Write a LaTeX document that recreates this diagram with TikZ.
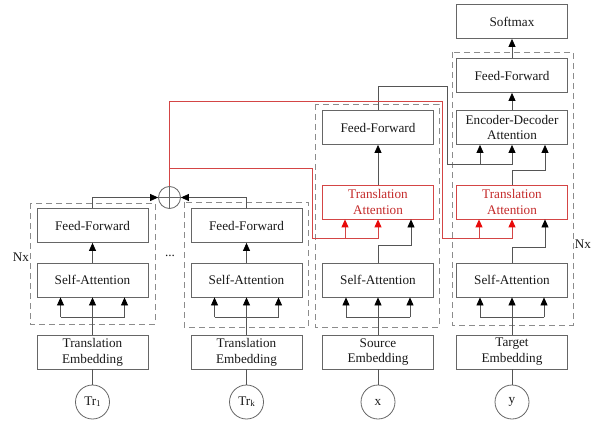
\documentclass[tikz,border=0pt]{standalone}
\usepackage{fontspec}
\setmainfont{Liberation Serif}
\usetikzlibrary{arrows.meta}

\definecolor{boxgray}{HTML}{666666}
\definecolor{linegray}{HTML}{555555}
\definecolor{dashgray}{HTML}{8C8C8C}
\definecolor{attred}{HTML}{C42A2A}
\definecolor{linered}{HTML}{D44545}
\definecolor{tipred}{HTML}{E80A0A}

\tikzset{
  block/.style={draw=boxgray, line width=0.8pt, minimum width=111pt,
    minimum height=34pt, inner sep=0pt, align=center,
    font=\fontsize{13.2}{15.8}\selectfont, text=black!90},
  redblock/.style={block, draw=linered, text=attred},
  layerbox/.style={draw=dashgray, dashed, dash pattern=on 6pt off 4pt, line width=0.9pt},
  tok/.style={circle, draw=boxgray, line width=0.8pt, minimum size=34pt,
    inner sep=0pt, font=\fontsize{13.2}{15.8}\selectfont, text=black!90},
  lbl/.style={inner sep=0pt, font=\fontsize{13.2}{15.8}\selectfont, text=black!90},
  link/.style={draw=linegray, line width=0.8pt},
  arr/.style={link, -{Triangle[width=7pt,length=8pt,color=black,fill=black]}},
  redlink/.style={draw=linered, line width=1pt},
  redarr/.style={redlink, -{Triangle[width=7pt,length=8pt,color=tipred,fill=tipred]}},
}

\begin{document}
\begin{tikzpicture}[x=1pt, y=-1pt]
  \useasboundingbox (0,0) rectangle (602,425);

  % layer frames (repeated Nx times)
  \draw[layerbox] (30,203) rectangle (155,324);
  \draw[layerbox] (184,202) rectangle (308,327);
  \draw[layerbox] (315,104) rectangle (439,327);
  \draw[layerbox] (452,52) rectangle (573,325);

  % translation encoder 1
  \node[block] (ff1)  at (92.5,225.5) {Feed-Forward};
  \node[block] (sa1)  at (92.5,280) {Self-Attention};
  \node[block] (emb1) at (92.5,352) {Translation\\Embedding};
  \node[tok]   (in1)  at (92.5,402) {Tr\raisebox{-1.2pt}{\fontsize{9}{9}\selectfont 1}};

  % translation encoder k
  \node[block] (ff2)  at (246.5,225.5) {Feed-Forward};
  \node[block] (sa2)  at (246.5,280) {Self-Attention};
  \node[block] (emb2) at (246.5,352) {Translation\\Embedding};
  \node[tok]   (in2)  at (246.5,402) {Tr\raisebox{-1.2pt}{\fontsize{9}{9}\selectfont k}};

  % source encoder
  \node[block]    (ff3)  at (378,127.5) {Feed-Forward};
  \node[redblock] (ta3)  at (378,202) {Translation\\Attention};
  \node[block]    (sa3)  at (378,280) {Self-Attention};
  \node[block]    (emb3) at (378,352) {Source\\Embedding};
  \node[tok]      (in3)  at (378,402) {x};

  % target decoder
  \node[block]    (sm)   at (512,21.5) {Softmax};
  \node[block]    (ff4)  at (512,75.5) {Feed-Forward};
  \node[block]    (ed)   at (512,127.5) {Encoder-Decoder\\Attention};
  \node[redblock] (ta4)  at (512,202) {Translation\\Attention};
  \node[block]    (sa4)  at (512,280) {Self-Attention};
  \node[block]    (emb4) at (512,352) {Target\\Embedding};
  \node[tok]      (in4)  at (512,402) {y};

  % summation of translation encoders
  \node[circle, draw=boxgray, line width=0.8pt, minimum size=22pt, inner sep=0pt] (sum) at (169.5,197.5) {};
  \draw[draw=boxgray, line width=0.8pt] (sum.north) -- (sum.south) (sum.west) -- (sum.east);

  \node[lbl] (dots) at (170,256) {...};
  \node[lbl] (nxl)  at (21,257) {Nx};
  \node[lbl] (nxr)  at (583,244) {Nx};

  % inputs into embeddings and self-attention (three-way split)
  \foreach \c in {1,2,3,4} {
    \draw[link] (in\c.north) -- (emb\c.south);
    \draw[arr] (emb\c.north) -- (sa\c.south);
    \draw[link] ([shift={(-32pt,-20pt)}]sa\c.south) -- ([shift={(32pt,-20pt)}]sa\c.south);
    \draw[arr] ([shift={(-32pt,-20pt)}]sa\c.south) -- ([xshift=-32pt]sa\c.south);
    \draw[arr] ([shift={(32pt,-20pt)}]sa\c.south) -- ([xshift=32pt]sa\c.south);
  }

  % translation encoders
  \draw[arr] (sa1.north) -- (ff1.south);
  \draw[arr] (sa2.north) -- (ff2.south);
  \draw[arr] (ff1.north) |- (sum.west);
  \draw[arr] (ff2.north) |- (sum.east);

  % source encoder
  \draw[arr] (sa3.north) -- (sa3.north |- 0,245) -| ([xshift=33pt]ta3.south);
  \draw[arr] (ta3.north) -- (ff3.south);
  \coordinate (encturn) at (447,86);
  \draw[arr] (ff3.north) |- (encturn) |- (ed.south |- 0,164) -- (ed.south);
  \draw[arr] ([xshift=-32pt]ed.south |- 0,164) -- ([xshift=-32pt]ed.south);

  % target decoder
  \draw[arr] (sa4.north) -- (sa4.north |- 0,247) -| ([xshift=33pt]ta4.south);
  \draw[arr] (ta4.north) -- (ta4.north |- 0,170) -| ([xshift=33pt]ed.south);
  \draw[arr] (ed.north) -- (ff4.south);
  \draw[arr] (ff4.north) -- (sm.south);

  % translation context into the translation attention layers
  \coordinate (redtop) at (442.5,101.5);
  \coordinate (redmid) at (312.5,168.5);
  \draw[redarr] (sum.north) |- (redtop) |- (ta4.south |- 0,238.5) -- (ta4.south);
  \draw[redarr] ([xshift=-33pt]ta4.south |- 0,238.5) -- ([xshift=-33pt]ta4.south);
  \draw[redarr] (sum.north |- redmid) -- (redmid) |- (ta3.south |- 0,238.5) -- (ta3.south);
  \draw[redarr] ([xshift=-33pt]ta3.south |- 0,238.5) -- ([xshift=-33pt]ta3.south);
\end{tikzpicture}
\end{document}
